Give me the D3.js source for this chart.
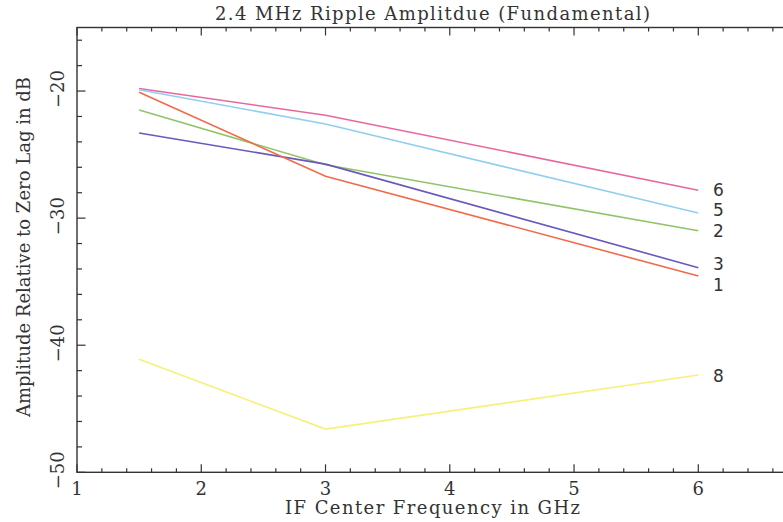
<!DOCTYPE html>
<html>
<head>
<meta charset="utf-8">
<script src="https://cdn.jsdelivr.net/npm/d3@7"></script>
<style>
  body { margin: 0; background: #fff; }
  text { font-family: "DejaVu Serif", serif; fill: #333; }
  text.lbl { font-family: "DejaVu Sans", sans-serif; }
</style>
</head>
<body>
<script>
var width = 783
var height = 522

// data
var freqs = [1.5, 3, 6]
var seriesNames = ["6", "5", "2", "3", "1", "8"]
var s6 = [-19.8, -21.9, -27.8]
var s5 = [-19.9, -22.6, -29.6]
var s2 = [-21.5, -25.8, -31.0]
var s3 = [-23.3, -25.75, -33.9]
var s1 = [-20.1, -26.7, -34.55]
var s8 = [-41.1, -46.6, -42.35]
var xTicks = [1, 2, 3, 4, 5, 6]
var yTicks = [-50, -40, -30, -20]

var colors = {"6": "#e8689e", "5": "#90cff0", "2": "#90c468", "3": "#6a58bc", "1": "#f26a4a", "8": "#f8f07a"}
// label offsets in px so the numbers don't collide
var labelNudge = {"6": 0, "5": -3, "2": 0, "3": -4, "1": 9, "8": 1}

var series = [s6, s5, s2, s3, s1, s8]

var margin = {left: 77, top: 27.5, bottom: 472.3}

var x = d3.scaleLinear().domain([1, 7]).range([margin.left, margin.left + 6 * 124.26])
var y = d3.scaleLinear().domain([-50, -15]).range([margin.bottom, margin.top])

var svg = d3.select("body").append("svg")
  .attr("width", width)
  .attr("height", height)

// frame
var axisColor = "#333"
svg.append("rect")
  .attr("x", x(1)).attr("y", y(-15))
  .attr("width", x(7) - x(1)).attr("height", y(-50) - y(-15))
  .attr("fill", "none").attr("stroke", axisColor).attr("stroke-width", 1.4)

// ticks (inside, on all sides)
var xMinor = d3.range(1, 7.01, 0.2)
var yMinor = d3.range(-50, -14.99, 2)

function isMajor(v) { return Math.abs(v - Math.round(v)) < 1e-6 }

var tg = svg.append("g").attr("stroke", axisColor).attr("stroke-width", 1.2)
xMinor.forEach(function(v) {
  var len = isMajor(v) ? 8 : 4
  tg.append("line").attr("x1", x(v)).attr("x2", x(v)).attr("y1", y(-50)).attr("y2", y(-50) - len)
  tg.append("line").attr("x1", x(v)).attr("x2", x(v)).attr("y1", y(-15)).attr("y2", y(-15) + len)
})
yMinor.forEach(function(v) {
  var len = (Math.round(v) % 10 === 0) ? 8.5 : 5
  tg.append("line").attr("x1", x(1)).attr("x2", x(1) + len).attr("y1", y(v)).attr("y2", y(v))
})

// tick labels
svg.selectAll("text.xt")
  .data(xTicks)
  .enter().append("text")
  .attr("class", "xt")
  .attr("x", function(d) { return x(d) })
  .attr("y", 495)
  .attr("text-anchor", "middle")
  .attr("font-size", 18)
  .text(function(d) { return d })

svg.selectAll("text.yt")
  .data(yTicks)
  .enter().append("text")
  .attr("class", "yt")
  .attr("transform", function(d) { return "translate(64," + (y(d) - 2) + ") rotate(-90)" })
  .attr("text-anchor", "middle")
  .attr("font-size", 18)
  .text(function(d) { return "\u2212" + Math.abs(d) })

// titles
svg.append("text")
  .attr("x", 432.5).attr("y", 20)
  .attr("text-anchor", "middle")
  .attr("font-size", 18)
  .attr("textLength", 435).attr("lengthAdjust", "spacing")
  .text("2.4 MHz Ripple Amplitdue (Fundamental)")

svg.append("text")
  .attr("x", 432.5).attr("y", 514)
  .attr("text-anchor", "middle")
  .attr("font-size", 18)
  .attr("textLength", 295).attr("lengthAdjust", "spacing")
  .text("IF Center Frequency in GHz")

svg.append("text")
  .attr("transform", "translate(30," + 247 + ") rotate(-90)")
  .attr("text-anchor", "middle")
  .attr("font-size", 18)
  .attr("textLength", 340).attr("lengthAdjust", "spacing")
  .text("Amplitude Relative to Zero Lag in dB")

// lines
var line = d3.line()
  .x(function(d, i) { return x(freqs[i]) })
  .y(function(d) { return y(d) })

series.forEach(function(vals, i) {
  var name = seriesNames[i]
  svg.append("path")
    .attr("d", line(vals))
    .attr("fill", "none")
    .attr("stroke", colors[name])
    .attr("stroke-width", 1.6)

  svg.append("text")
    .attr("class", "lbl")
    .attr("x", 713)
    .attr("y", y(vals[vals.length - 1]) + labelNudge[name] + 6)
    .attr("font-size", 17)
    .text(name)
})
</script>
</body>
</html>
